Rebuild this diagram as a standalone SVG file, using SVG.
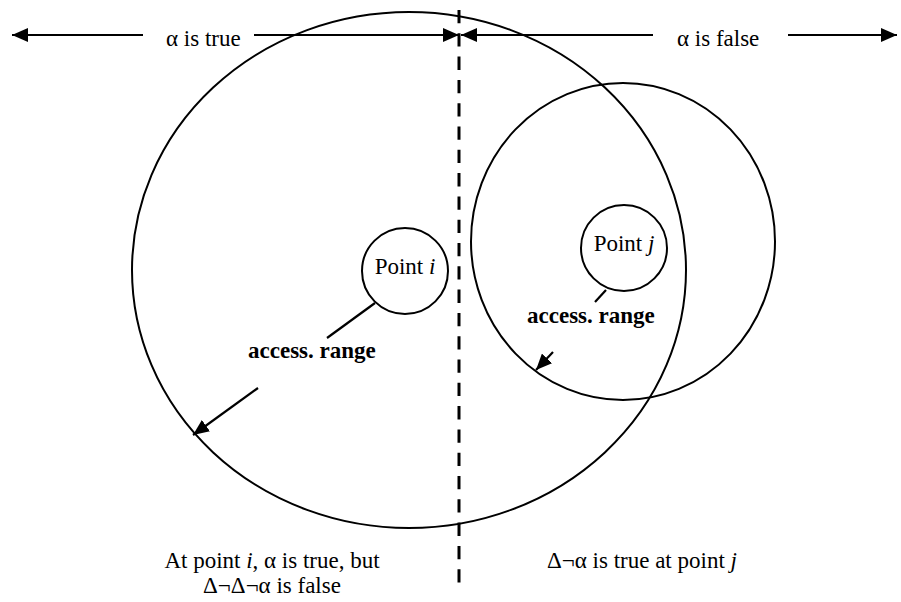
<svg xmlns="http://www.w3.org/2000/svg" width="901" height="602" viewBox="0 0 901 602">
<style>
.shape{fill:none;stroke:#000;stroke-width:2}
.conn{fill:none;stroke:#000;stroke-width:2.2}
.t{font-family:"Liberation Serif","Times New Roman",serif;font-size:23px;fill:#000}
.b{font-weight:bold}
.i{font-style:italic}
</style>
<defs>
<marker id="ah" markerUnits="userSpaceOnUse" markerWidth="16" markerHeight="14" refX="16" refY="7" orient="auto">
<path d="M0,0 L16,7 L0,14 z" fill="#000"/>
</marker>
</defs>
<rect width="901" height="602" fill="#fff"/>
<g id="region-large">
<ellipse class="shape" cx="409" cy="270" rx="277" ry="258"/>
</g>
<g id="region-small">
<ellipse class="shape" cx="623" cy="241.5" rx="152" ry="158.5"/>
</g>
<g id="point-i">
<circle class="shape" cx="405" cy="271" r="43"/>
<text class="t" x="405" y="274" text-anchor="middle">Point <tspan class="i">i</tspan></text>
</g>
<g id="point-j">
<circle class="shape" cx="624" cy="248" r="43"/>
<text class="t" x="624" y="251" text-anchor="middle">Point <tspan class="i">j</tspan></text>
</g>
<g id="divider">
<line x1="459" y1="10" x2="459" y2="584" stroke="#000" stroke-width="3" stroke-dasharray="13.3 10"/>
</g>
<g id="connectors">
<line class="conn" x1="143" y1="35" x2="12" y2="35" marker-end="url(#ah)"/>
<line class="conn" x1="254" y1="35" x2="459" y2="35" marker-end="url(#ah)"/>
<line class="conn" x1="653" y1="35" x2="461" y2="35" marker-end="url(#ah)"/>
<line class="conn" x1="788" y1="35" x2="897" y2="35" marker-end="url(#ah)"/>
<line class="conn" x1="375" y1="303" x2="327" y2="338"/>
<line class="conn" x1="258" y1="388" x2="193" y2="435" marker-end="url(#ah)"/>
<line class="conn" x1="606" y1="290" x2="595" y2="302"/>
<line class="conn" x1="553" y1="352" x2="536" y2="370" marker-end="url(#ah)"/>
</g>
<g id="labels">
<text class="t" x="166" y="46">α is true</text>
<text class="t" x="677" y="46">α is false</text>
<text class="t b" x="248" y="358">access. range</text>
<text class="t b" x="527" y="323">access. range</text>
<text class="t" x="272" y="568" text-anchor="middle">At point <tspan class="i">i</tspan>, α is true, but</text>
<text class="t" x="272" y="593" text-anchor="middle">Δ¬Δ¬α is false</text>
<text class="t" x="547" y="568">Δ¬α is true at point <tspan class="i">j</tspan></text>
</g>
</svg>
